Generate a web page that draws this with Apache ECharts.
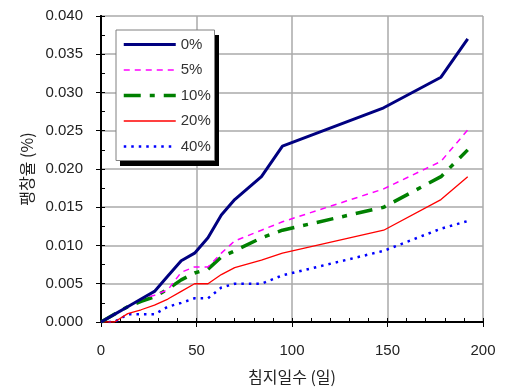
<!DOCTYPE html>
<html><head><meta charset="utf-8">
<script src="https://cdn.jsdelivr.net/npm/echarts@6/dist/echarts.min.js"></script>
<style>html,body{margin:0;padding:0;background:#fff}#c{width:506px;height:390px}</style>
</head><body><div id="c"></div>
<script>
var days = [0,7,14,21,28,35,42,49,56,63,70,84,95,148,178,192];
var seriesNames = ['0%','5%','10%','20%','40%'];
var s0  = [0,0.001,0.002,0.003,0.004,0.006,0.008,0.009,0.011,0.014,0.016,0.019,0.023,0.028,0.032,0.037];
var s5  = [0,0.001,0.002,0.003,0.0035,0.0042,0.0065,0.0072,0.0072,0.009,0.0106,0.012,0.0131,0.0174,0.021,0.0251];
var s10 = [0,0.001,0.002,0.0027,0.0033,0.0043,0.0055,0.0064,0.0069,0.0085,0.0093,0.011,0.012,0.015,0.019,0.0225];
var s20 = [0,0,0.0011,0.0016,0.0022,0.003,0.004,0.005,0.005,0.0062,0.0071,0.0081,0.009,0.012,0.016,0.019];
var s40 = [0,0,0.001,0.001,0.001,0.002,0.0025,0.0031,0.0031,0.0045,0.005,0.005,0.0061,0.0093,0.0122,0.0132];
var xTicks = {min:0, max:200, interval:50, minor:10};
var yTicks = {min:0, max:0.04, interval:0.005, minor:0.0025};

function pairs(vals){ return days.map(function(d,i){ return [d, vals[i]]; }); }

var styles = [
  {color:'#000080', width:3, type:'solid'},
  {color:'#ff00ff', width:1.5, type:[6,5]},
  {color:'#008000', width:3.5, type:[17,9,5,9]},
  {color:'#ff0000', width:1.3, type:'solid'},
  {color:'#0000ff', width:2.5, type:[2.5,5]}
];
var allVals = [s0,s5,s10,s20,s40];

var chart = echarts.init(document.getElementById('c'), null, {renderer:'canvas'});
var font = 'Liberation Sans, Arial, sans-serif';
var kfont = '"Noto Sans CJK KR", sans-serif';
var option = {
  animation:false,
  backgroundColor:'#fff',
  grid:{left:101, top:16, right:23, bottom:68, show:false},
  graphic:[
    {type:'rect', left:120, top:35, z:50, shape:{width:99, height:131}, style:{fill:'#000'}},
    {type:'rect', left:115.5, top:29.5, z:51, shape:{width:98.5, height:130.5}, style:{fill:'#fff', stroke:'#808080', lineWidth:1}}
  ],
  legend:{
    orient:'vertical', left:117, top:32, z:60, padding:5,
    itemWidth:52, itemHeight:16, itemGap:10.5, itemTextGap:4,
    itemStyle:{opacity:0, color:'rgba(0,0,0,0)', borderWidth:0},
    lineStyle:{width:'inherit'},
    textStyle:{fontFamily:font, fontSize:15, color:'#333'},
    data:seriesNames
  },
  xAxis:[
    {type:'value', min:xTicks.min, max:xTicks.max, interval:xTicks.interval, position:'bottom',
     name:'침지일수 (일)', nameLocation:'middle', nameGap:47,
     nameTextStyle:{fontFamily:kfont, fontSize:16, color:'#222'},
     axisLine:{show:true, lineStyle:{color:'#000', width:2}},
     axisTick:{show:true, length:5, lineStyle:{color:'#000', width:1}},
     axisLabel:{margin:21, fontFamily:font, fontSize:15, color:'#222'},
     splitLine:{show:true, lineStyle:{color:'#aaaaaa', width:1.5}}},
    {type:'value', min:xTicks.min, max:xTicks.max, interval:xTicks.minor, position:'bottom',
     axisLine:{show:false}, axisLabel:{show:false}, splitLine:{show:false},
     axisTick:{show:true, inside:true, length:4, lineStyle:{color:'#000', width:1}}},
    {type:'value', min:xTicks.min, max:xTicks.max, position:'top', z:5,
     axisLine:{show:true, lineStyle:{color:'#000', width:2}}, axisLabel:{show:false}, axisTick:{show:false}, splitLine:{show:false}}
  ],
  yAxis:[
    {type:'value', min:yTicks.min, max:yTicks.max, interval:yTicks.interval, position:'left',
     name:'팽창율 (%)', nameLocation:'middle', nameGap:65, nameRotate:90,
     nameTextStyle:{fontFamily:kfont, fontSize:16, color:'#222'},
     axisLine:{show:true, lineStyle:{color:'#000', width:2}},
     axisTick:{show:true, length:5, lineStyle:{color:'#000', width:1}},
     axisLabel:{margin:18, fontFamily:font, fontSize:15, color:'#222', formatter:function(v){return v.toFixed(3);}},
     splitLine:{show:true, lineStyle:{color:'#aaaaaa', width:1.5}}},
    {type:'value', min:yTicks.min, max:yTicks.max, interval:yTicks.minor, position:'left',
     axisLine:{show:false}, axisLabel:{show:false}, splitLine:{show:false},
     axisTick:{show:true, inside:true, length:4, lineStyle:{color:'#000', width:1}}},
    {type:'value', min:yTicks.min, max:yTicks.max, position:'right', z:5,
     axisLine:{show:true, lineStyle:{color:'#000', width:2}}, axisLabel:{show:false}, axisTick:{show:false}, splitLine:{show:false}}
  ],
  series: seriesNames.map(function(n,i){
    return {name:n, type:'line', xAxisIndex:0, yAxisIndex:0, data:pairs(allVals[i]),
      symbol:'none', smooth:false, z:10+ (5-i),
      itemStyle:{color:styles[i].color},
      lineStyle:{color:styles[i].color, width:styles[i].width, type:styles[i].type}};
  })
};
chart.setOption(option);
</script>
</body></html>
